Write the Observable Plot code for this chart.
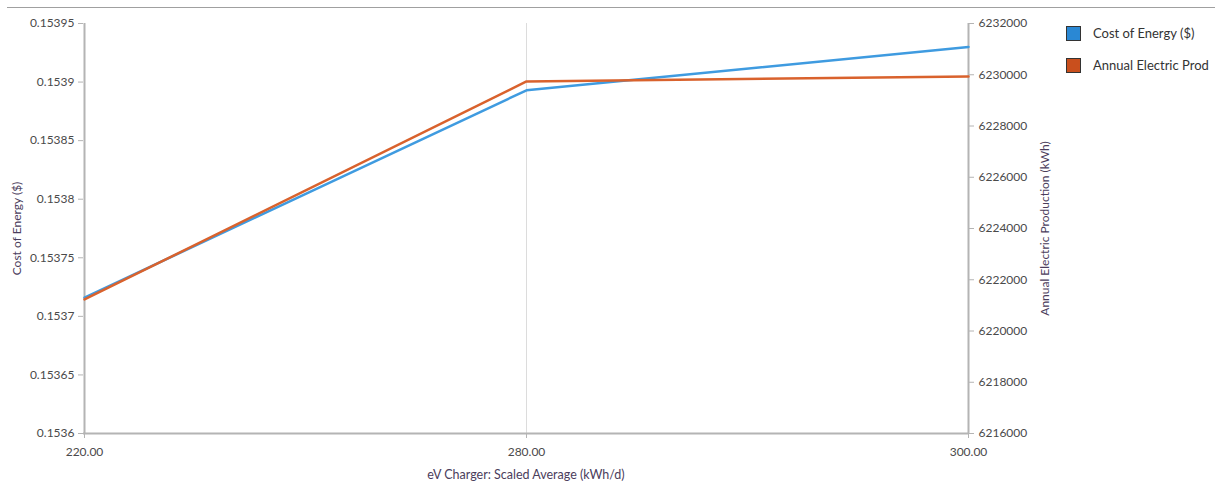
<!DOCTYPE html>
<html>
<head>
<meta charset="utf-8">
<script src="https://cdn.jsdelivr.net/npm/d3@7"></script>
<script src="https://cdn.jsdelivr.net/npm/@observablehq/plot@0.6"></script>
<style>
  body { margin: 0; background: #fff; }
  #wrap { position: relative; width: 1215px; height: 485px; font-family: Lato, "Open Sans", sans-serif; }
  #topline { position: absolute; left: 7px; right: 0; top: 7px; height: 1px; background: #a0a0a0; }
  #chart { position: absolute; left: 0; top: 0; }
  #legend { position: absolute; left: 1066px; top: 25px; font-size: 13px; color: #333; }
  .item { display: flex; align-items: center; height: 16px; margin-bottom: 16px; }
  .sw { width: 15px; height: 15px; border: 1px solid #333; margin-right: 12px; box-sizing: border-box; }
</style>
</head>
<body>
<div id="wrap">
  <div id="topline"></div>
  <div id="chart"></div>
  <div id="legend"></div>
</div>
<script>
// ---- data ----
const chargerLevels = ["220.00", "280.00", "300.00"];
const costOfEnergy = [0.153716, 0.153893, 0.15393];
const annualProduction = [6221230, 6229740, 6229930];
const leftTicks = [0.1536, 0.15365, 0.1537, 0.15375, 0.1538, 0.15385, 0.1539, 0.15395];
const rightTicks = [6216000, 6218000, 6220000, 6222000, 6224000, 6226000, 6228000, 6230000, 6232000];
const seriesNames = ["Cost of Energy ($)", "Annual Electric Prod"];
const lineColors = ["#3f9be0", "#d9622d"];
const swatchColors = ["#2a88d4", "#c94f1d"];
const xLabel = "eV Charger: Scaled Average (kWh/d)";
const leftLabel = "Cost of Energy ($)";
const rightLabel = "Annual Electric Production (kWh)";

const leftDomain = [leftTicks[0], leftTicks[leftTicks.length - 1]];
const rightDomain = [rightTicks[0], rightTicks[rightTicks.length - 1]];
const toLeft = d3.scaleLinear().domain(rightDomain).range(leftDomain);

const rows = chargerLevels.map((x, i) => ({x, cost: costOfEnergy[i], prod: toLeft(annualProduction[i])}));

const axisColor = "#b4b4b4";
const textColor = "#4a4a4a";
const titleColor = "#4b3d5c";

const chart = Plot.plot({
  width: 1215,
  height: 485,
  marginLeft: 83,
  marginRight: 247,
  marginTop: 23,
  marginBottom: 52,
  style: { fontFamily: "Lato, 'Open Sans', sans-serif", fontSize: "12px", color: textColor, background: "transparent" },
  x: { type: "point", domain: chargerLevels, padding: 0 },
  y: { domain: leftDomain },
  marks: [
    Plot.gridX(chargerLevels.slice(1, -1), { stroke: "#dcdcdc", strokeOpacity: 1, strokeWidth: 1 }),
    Plot.ruleX([chargerLevels[0], chargerLevels[chargerLevels.length - 1]], { stroke: axisColor, strokeWidth: 2 }),
    Plot.ruleY([leftDomain[0]], { stroke: axisColor, strokeWidth: 2 }),
    Plot.axisY(leftTicks, {
      anchor: "left", tickSize: 5, tickPadding: 4, stroke: axisColor, color: textColor,
      tickFormat: d => String(+d.toFixed(5)),
      label: leftLabel, labelAnchor: "center", labelArrow: "none", labelOffset: 71
    }),
    Plot.axisY(rightTicks.map(toLeft), {
      anchor: "right", tickSize: 5, tickPadding: 5, stroke: axisColor, color: textColor,
      tickFormat: d => String(Math.round(toLeft.invert(d))),
      label: rightLabel, labelAnchor: "center", labelArrow: "none", labelOffset: 80
    }),
    Plot.axisX(chargerLevels, {
      anchor: "bottom", tickSize: 5, tickPadding: 9, stroke: axisColor, color: textColor,
      label: xLabel, labelAnchor: "center", labelArrow: "none", labelOffset: 45
    }),
    Plot.line(rows, { x: "x", y: "cost", stroke: lineColors[0], strokeWidth: 2.5 }),
    Plot.line(rows, { x: "x", y: "prod", stroke: lineColors[1], strokeWidth: 2.5 })
  ]
});
chart.querySelectorAll("g[aria-label='y-axis label'], g[aria-label='x-axis label']").forEach(g => g.setAttribute("fill", titleColor));
chart.querySelectorAll("g[aria-label='x-axis label']").forEach(g => g.setAttribute("font-size", "12.5"));
document.getElementById("chart").appendChild(chart);

const legend = document.getElementById("legend");
seriesNames.forEach((name, i) => {
  const item = document.createElement("div");
  item.className = "item";
  const sw = document.createElement("div");
  sw.className = "sw";
  sw.style.background = swatchColors[i];
  const t = document.createElement("span");
  t.textContent = name;
  item.appendChild(sw);
  item.appendChild(t);
  legend.appendChild(item);
});
</script>
</body>
</html>
